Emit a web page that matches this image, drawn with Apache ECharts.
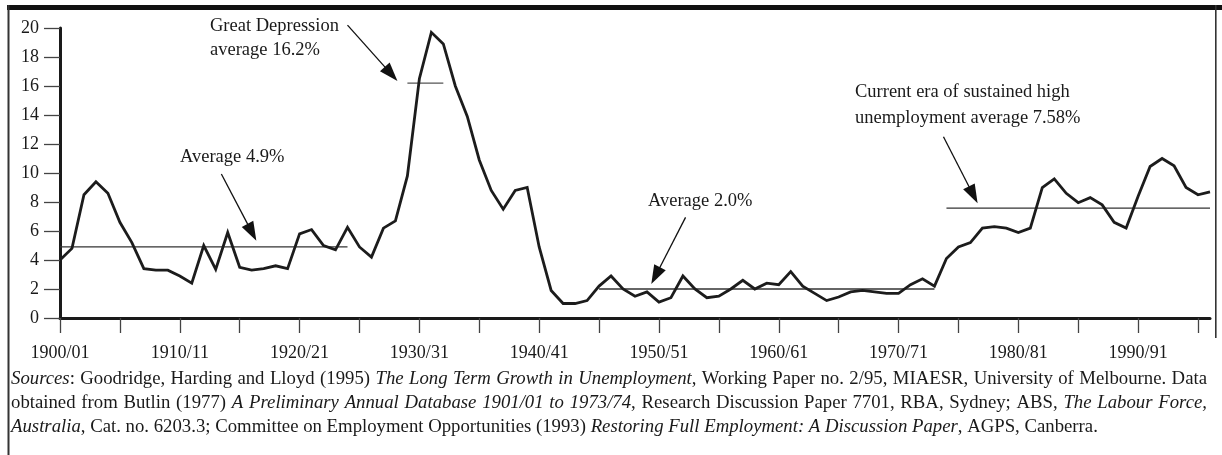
<!DOCTYPE html>
<html><head><meta charset="utf-8">
<script src="https://cdn.jsdelivr.net/npm/echarts@6/dist/echarts.min.js"></script>
<style>html,body{margin:0;padding:0;background:#fff;}#c{width:1222px;height:455px;}</style>
</head><body><div id="c"></div>
<script>
// ---------- data ----------
const categories = [
"1900/01","1901/02","1902/03","1903/04","1904/05","1905/06","1906/07","1907/08","1908/09","1909/10",
"1910/11","1911/12","1912/13","1913/14","1914/15","1915/16","1916/17","1917/18","1918/19","1919/20",
"1920/21","1921/22","1922/23","1923/24","1924/25","1925/26","1926/27","1927/28","1928/29","1929/30",
"1930/31","1931/32","1932/33","1933/34","1934/35","1935/36","1936/37","1937/38","1938/39","1939/40",
"1940/41","1941/42","1942/43","1943/44","1944/45","1945/46","1946/47","1947/48","1948/49","1949/50",
"1950/51","1951/52","1952/53","1953/54","1954/55","1955/56","1956/57","1957/58","1958/59","1959/60",
"1960/61","1961/62","1962/63","1963/64","1964/65","1965/66","1966/67","1967/68","1968/69","1969/70",
"1970/71","1971/72","1972/73","1973/74","1974/75","1975/76","1976/77","1977/78","1978/79","1979/80",
"1980/81","1981/82","1982/83","1983/84","1984/85","1985/86","1986/87","1987/88","1988/89","1989/90",
"1990/91","1991/92","1992/93","1993/94","1994/95","1995/96","1996/97"];
const unemployment = [
4.0,4.8,8.5,9.4,8.6,6.6,5.2,3.4,3.3,3.3,
2.9,2.4,5.0,3.35,5.9,3.5,3.3,3.4,3.6,3.4,
5.8,6.1,5.0,4.7,6.25,4.9,4.2,6.2,6.7,9.8,
16.5,19.7,18.9,16.0,13.9,10.9,8.8,7.5,8.8,9.0,
4.9,1.9,1.0,1.0,1.2,2.2,2.9,2.0,1.5,1.8,
1.1,1.4,2.9,2.0,1.4,1.5,2.0,2.6,2.0,2.4,
2.3,3.2,2.2,1.7,1.2,1.45,1.8,1.9,1.8,1.7,
1.7,2.3,2.7,2.2,4.1,4.9,5.2,6.2,6.3,6.2,
5.9,6.2,9.0,9.6,8.6,7.95,8.3,7.8,6.6,6.2,
8.4,10.45,11.0,10.5,9.0,8.5,8.7];
const yTickValues = [0,2,4,6,8,10,12,14,16,18,20];

// period averages (category index range, value)
const avgFrom  = [0, 29, 45, 74];
const avgTo    = [24, 32, 73, 96];
const avgValue = [4.9, 16.2, 2.0, 7.58];

// annotation texts
const noteLines = [
  ["Great Depression", "average 16.2%"],
  ["Average 4.9%"],
  ["Average 2.0%"],
  ["Current era of sustained high", "unemployment average 7.58%"]
];
// arrows in data units: [categoryIndex, value]
const arrowStart = [[24.0, 20.2], [13.47, 9.93], [52.22, 6.94], [73.75, 12.5]];
const arrowTip   = [[28.17, 16.34], [16.39, 5.33], [49.36, 2.34], [76.6, 7.91]];

const sourceLines = [
  [["Sources", 1], [": Goodridge, Harding and Lloyd (1995) ", 0], ["The Long Term Growth in Unemployment", 1], [", Working Paper no. 2/95, MIAESR, University of Melbourne. Data", 0]],
  [["obtained from Butlin (1977) ", 0], ["A Preliminary Annual Database 1901/01 to 1973/74", 1], [", Research Discussion Paper 7701, RBA, Sydney; ABS, ", 0], ["The Labour Force,", 1]],
  [["Australia", 1], [", Cat. no. 6203.3; Committee on Employment Opportunities (1993) ", 0], ["Restoring Full Employment: A Discussion Paper", 1], [", AGPS, Canberra.", 0]]
];

// ---------- chart ----------
const FONT = '"Liberation Serif", "Times New Roman", serif';
const INK = '#1a1a1a';
const chart = echarts.init(document.getElementById('c'), null, {renderer: 'canvas'});
chart.setOption({
  animation: false,
  backgroundColor: '#fff',
  grid: {left: 60, right: 12, top: 28, bottom: 137, containLabel: false},
  xAxis: {
    type: 'category', data: categories, boundaryGap: false,
    axisLine: {lineStyle: {color: INK, width: 3}},
    axisTick: {show: true, interval: 4, length: 15, lineStyle: {color: '#444', width: 1.3}},
    axisLabel: {interval: 9, margin: 26, fontFamily: FONT, fontSize: 18, color: INK},
    splitLine: {show: false}
  },
  yAxis: {
    type: 'value', min: yTickValues[0], max: yTickValues[yTickValues.length - 1], interval: 2,
    axisLine: {show: true, lineStyle: {color: INK, width: 3}},
    axisTick: {show: true, length: 16, lineStyle: {color: '#444', width: 1.3}},
    axisLabel: {margin: 21, fontFamily: FONT, fontSize: 18, color: INK},
    splitLine: {show: false}
  },
  series: [{
    type: 'line', data: unemployment, symbol: 'none', clip: false,
    lineStyle: {color: '#1c1c1c', width: 2.8, join: 'miter'}, z: 5
  }]
});

// ---------- annotations via library scales ----------
const x0 = chart.convertToPixel({xAxisIndex: 0}, 0);
const x1 = chart.convertToPixel({xAxisIndex: 0}, categories.length - 1);
const xPix = i => x0 + (x1 - x0) * i / (categories.length - 1);
const yPix = v => chart.convertToPixel({yAxisIndex: 0}, v);

const g = [];
// frame
g.push({type: 'rect', shape: {x: 7, y: 5, width: 1215, height: 5}, style: {fill: '#111'}, z: 20});
g.push({type: 'rect', shape: {x: 7.5, y: 5, width: 2, height: 450}, style: {fill: '#333'}, z: 20});
g.push({type: 'rect', shape: {x: 1215, y: 5, width: 1.6, height: 333}, style: {fill: '#333'}, z: 20});

// average lines
for (let k = 0; k < avgValue.length; k++) {
  const y = yPix(avgValue[k]);
  g.push({type: 'line', shape: {x1: xPix(avgFrom[k]), y1: y, x2: xPix(avgTo[k]), y2: y},
    style: {stroke: k === 1 ? '#555' : '#333', lineWidth: 1.3}, z: 4});
}
// arrows
for (let k = 0; k < arrowStart.length; k++) {
  const sx = xPix(arrowStart[k][0]), sy = yPix(arrowStart[k][1]);
  const tx = xPix(arrowTip[k][0]), ty = yPix(arrowTip[k][1]);
  const dx = tx - sx, dy = ty - sy, len = Math.hypot(dx, dy);
  const ux = dx / len, uy = dy / len;
  const L = 19, W = 6.5;
  const bx = tx - ux * L, by = ty - uy * L;
  g.push({type: 'line', shape: {x1: sx, y1: sy, x2: bx + ux * 2, y2: by + uy * 2}, style: {stroke: '#111', lineWidth: 1.3}, z: 6});
  g.push({type: 'polygon', shape: {points: [[tx, ty], [bx - uy * W, by + ux * W], [bx + uy * W, by - ux * W]]},
    style: {fill: '#111'}, z: 6});
}
// annotation texts (pixel placement of labels)
const notePos = [[210, 26.2, 23.5], [180, 157, 0], [648, 201, 0], [855, 91.7, 26.3]];
for (let k = 0; k < noteLines.length; k++) {
  noteLines[k].forEach((t, j) => {
    g.push({type: 'text', x: notePos[k][0], y: notePos[k][1] + j * notePos[k][2],
      style: {text: t, fontFamily: FONT, fontSize: 18.5, fill: INK, align: 'left', verticalAlign: 'middle',
        textAlign: 'left', textVerticalAlign: 'middle'}, z: 10});
  });
}

// sources block, justified
const ctx = document.createElement('canvas').getContext('2d');
const fontStr = (sz, it) => (it ? 'italic ' : '') + sz + 'px ' + FONT;
function words(line) {
  const out = [[]];
  line.forEach(([txt, it]) => {
    txt.split(' ').forEach((p, idx) => {
      if (idx > 0) out.push([]);
      if (p) out[out.length - 1].push([p, it]);
    });
  });
  return out.filter(w => w.length);
}
function measure(piece, sz) { ctx.font = fontStr(sz, piece[1]); return ctx.measureText(piece[0]).width; }
function naturalWidth(line, sz) {
  const ws = words(line);
  ctx.font = fontStr(sz, 0);
  const sp = ctx.measureText(' ').width;
  let s = 0; ws.forEach(w => w.forEach(p => s += measure(p, sz)));
  return s + sp * (ws.length - 1);
}
const srcSize = Math.min(19, Math.max(16, 18 * 1087 / naturalWidth(sourceLines[2], 18)));
const srcLeft = 11, srcRight = 1207, srcY = [379, 403, 427];
sourceLines.forEach((line, li) => {
  const ws = words(line);
  const widths = ws.map(w => w.reduce((a, p) => a + measure(p, srcSize), 0));
  const total = widths.reduce((a, b) => a + b, 0);
  ctx.font = fontStr(srcSize, 0);
  const gap = li < sourceLines.length - 1 ? (srcRight - srcLeft - total) / (ws.length - 1) : ctx.measureText(' ').width;
  let x = srcLeft;
  ws.forEach((w, wi) => {
    let px = x;
    w.forEach(p => {
      g.push({type: 'text', x: px, y: srcY[li],
        style: {text: p[0], fontFamily: FONT, fontSize: srcSize, fontStyle: p[1] ? 'italic' : 'normal', fill: INK,
          align: 'left', verticalAlign: 'middle', textAlign: 'left', textVerticalAlign: 'middle'}, z: 10});
      px += measure(p, srcSize);
    });
    x += widths[wi] + gap;
  });
});
chart.setOption({graphic: {elements: g}});
</script></body></html>
